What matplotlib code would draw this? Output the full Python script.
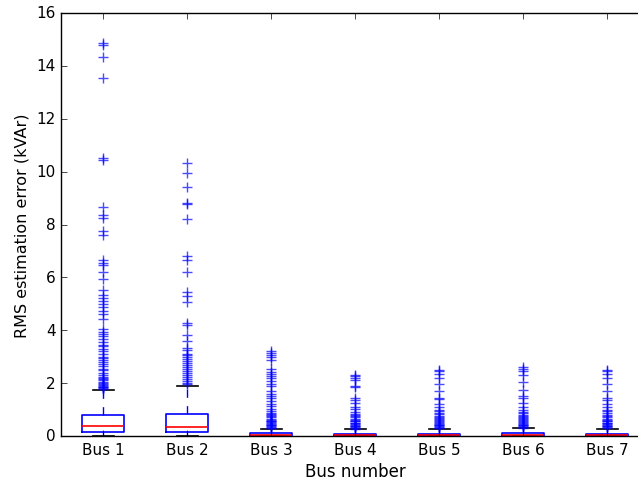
import matplotlib
matplotlib.use("Agg")
import matplotlib.pyplot as plt

plt.style.use("classic")

bus_labels = ["Bus 1", "Bus 2", "Bus 3", "Bus 4", "Bus 5", "Bus 6", "Bus 7"]

# quartiles, medians and whisker ends per bus (kVAr)
q1 = [0.14, 0.16, 0.01, 0.01, 0.01, 0.01, 0.01]
med = [0.37, 0.33, 0.04, 0.03, 0.03, 0.04, 0.03]
q3 = [0.78, 0.84, 0.11, 0.07, 0.07, 0.11, 0.07]
whislo = [0.0, 0.0, 0.0, 0.0, 0.0, 0.0, 0.0]
whishi = [1.73, 1.88, 0.26, 0.26, 0.27, 0.29, 0.27]

# outliers per bus (kVAr)
fliers_bus1 = [14.86, 14.79, 14.32, 13.54, 10.52, 10.45, 8.68, 8.35, 8.25, 7.75,
               7.62, 6.65, 6.55, 6.45, 6.2, 5.95, 5.52, 5.35, 5.22, 5.12, 5.0,
               4.88, 4.72, 4.6, 4.42, 4.05, 3.95, 3.85, 3.78, 3.68, 3.55, 3.45,
               3.4, 3.3, 3.2, 3.1, 3.0, 2.95, 2.88, 2.8, 2.72, 2.65, 2.55, 2.48,
               2.4, 2.32, 2.25, 2.2, 2.15, 2.1, 2.05, 2.0, 1.97, 1.93, 1.9, 1.87,
               1.84, 1.81, 1.79]
fliers_bus2 = [10.31, 9.94, 9.40, 8.81, 8.77, 8.21, 6.82, 6.67, 6.19, 5.43, 5.31,
               5.06, 4.27, 4.21, 3.83, 3.58, 3.33, 3.25, 3.12, 3.05, 2.98, 2.92,
               2.85, 2.78, 2.7, 2.62, 2.55, 2.45, 2.38, 2.3, 2.22, 2.15, 2.08,
               2.02, 1.97]
fliers_bus3 = [3.23, 3.15, 3.08, 2.98, 2.88, 2.52, 2.42, 2.35, 2.28, 2.18, 2.08,
               1.98, 1.9, 1.72, 1.6, 1.5, 1.42, 1.32, 1.22, 1.12, 1.02, 0.95,
               0.88, 0.82, 0.78, 0.74, 0.7, 0.66, 0.62, 0.58, 0.55, 0.52, 0.49,
               0.46, 0.43, 0.4, 0.37, 0.34, 0.31, 0.29]
fliers_bus4 = [2.32, 2.28, 2.2, 2.1, 1.9, 1.85, 1.42, 1.35, 1.25, 1.1, 1.02, 0.92,
               0.85, 0.8, 0.75, 0.7, 0.66, 0.62, 0.58, 0.55, 0.51, 0.48, 0.45,
               0.42, 0.39, 0.36, 0.33, 0.3, 0.28]
fliers_bus5 = [2.5, 2.45, 2.35, 2.2, 1.95, 1.7, 1.45, 1.4, 1.2, 1.1, 1.0, 0.95,
               0.88, 0.82, 0.77, 0.72, 0.68, 0.64, 0.6, 0.56, 0.52, 0.49, 0.46,
               0.43, 0.4, 0.37, 0.34, 0.31, 0.29]
fliers_bus6 = [2.6, 2.55, 2.45, 2.3, 2.05, 1.75, 1.5, 1.45, 1.25, 1.1, 1.0, 0.92,
               0.86, 0.8, 0.76, 0.72, 0.68, 0.64, 0.6, 0.56, 0.52, 0.49, 0.46,
               0.43, 0.4, 0.37, 0.34, 0.32]
fliers_bus7 = [2.5, 2.45, 2.35, 2.2, 1.95, 1.7, 1.45, 1.35, 1.2, 1.1, 1.0, 0.93,
               0.86, 0.8, 0.75, 0.7, 0.66, 0.62, 0.58, 0.55, 0.51, 0.48, 0.45,
               0.42, 0.39, 0.36, 0.33, 0.3]
fliers = [fliers_bus1, fliers_bus2, fliers_bus3, fliers_bus4,
          fliers_bus5, fliers_bus6, fliers_bus7]

stats = []
for i, lab in enumerate(bus_labels):
    stats.append(dict(label=lab, q1=q1[i], med=med[i], q3=q3[i],
                      whislo=whislo[i], whishi=whishi[i], fliers=fliers[i]))

W, H = 638, 481
fig = plt.figure(figsize=(W / 100, H / 100), dpi=100, facecolor="white")
# axes extends slightly past the right edge of the canvas
ax = fig.add_axes([61 / W, (H - 437) / H, 588 / W, 423 / H])

ax.bxp(stats, positions=range(1, len(bus_labels) + 1), widths=0.5,
       boxprops=dict(color="b", linewidth=1.2),
       whiskerprops=dict(color="b", linestyle="--", linewidth=1.0),
       capprops=dict(color="k", linewidth=1.2),
       medianprops=dict(color="r", linewidth=1.2),
       flierprops=dict(marker="+", markeredgecolor="b", markerfacecolor="none",
                       markersize=7, markeredgewidth=1.0, alpha=0.7,
                       linestyle="none"))
ax.set_xlim(0.5, 7.5)
ax.set_ylim(0, 16)
ax.set_xticks(range(1, len(bus_labels) + 1))
ax.set_xticklabels(bus_labels)
ax.tick_params(labelsize=11)
ax.set_xlabel("Bus number", fontsize=12, labelpad=4)
ax.set_ylabel("RMS estimation error (kVAr)", fontsize=11.5)

fig.savefig("out.png", dpi=100, facecolor="white")
